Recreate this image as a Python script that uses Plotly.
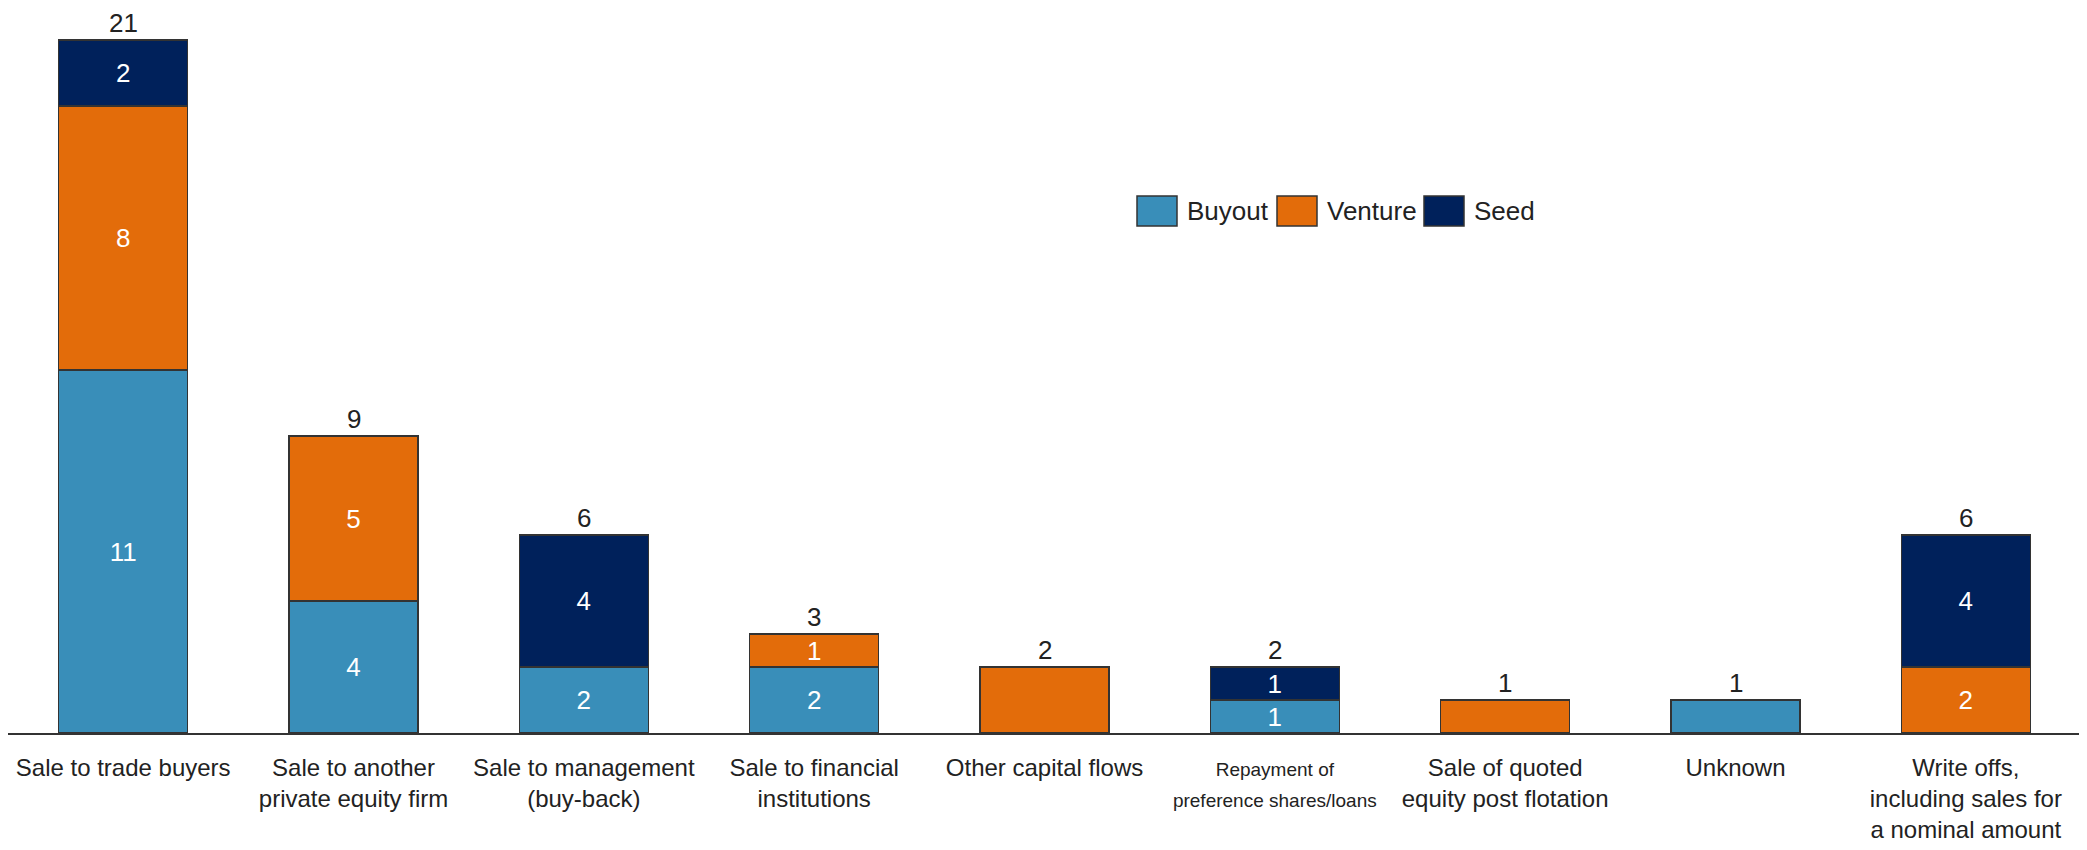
import plotly.graph_objects as go

categories = [
    "Sale to trade buyers",
    "Sale to another<br>private equity firm",
    "Sale to management<br>(buy-back)",
    "Sale to financial<br>institutions",
    "Other capital flows",
    "<span style='font-size:19px'>Repayment of<br>preference shares/loans</span>",
    "Sale of quoted<br>equity post flotation",
    "Unknown",
    "Write offs,<br>including sales for<br>a nominal amount",
]
buyout = [11, 4, 2, 2, 0, 1, 0, 1, 0]
venture = [8, 5, 0, 1, 2, 0, 1, 0, 2]
seed = [2, 0, 4, 0, 0, 1, 0, 0, 4]

series = [("Buyout", buyout, "#398EB9"), ("Venture", venture, "#E36C0A"), ("Seed", seed, "#00215B")]
totals = [b + v + s for b, v, s in zip(buyout, venture, seed)]
nseg = [sum(1 for x in t if x > 0) for t in zip(buyout, venture, seed)]

FONT = "Liberation Sans Narrow, Arial Narrow, Liberation Sans, Arial, sans-serif"
FS = 26
TFS = 24
xs = list(range(len(categories)))

# page body has an 8px default margin; figure sized to fill the rest of the window
OFF = 8
W, H = 2087 - OFF, 850 - OFF
L, R, T, B = 0, 6, 2, 117
pw, ph = W - L - R, H - T - B

fig = go.Figure()
for name, vals, col in series:
    txt = [str(v) if (v > 0 and n > 1) else "" for v, n in zip(vals, nseg)]
    fig.add_trace(go.Bar(
        x=xs, y=vals, name=name, text=txt, texttemplate="%{text}",
        textposition="inside", insidetextanchor="middle", constraintext="none",
        textangle=0,
        textfont=dict(color="white", size=FS, family=FONT),
        marker=dict(color=col, line=dict(color="#333333", width=1.5)),
        showlegend=False, hoverinfo="skip",
    ))

for x, t in zip(xs, totals):
    fig.add_annotation(x=x, y=t, text=str(t), showarrow=False, yanchor="bottom",
                       yshift=0, font=dict(size=FS, color="#222222", family=FONT))

# manual legend (positions in page pixels)
def px2x(p): return (p - OFF - L) / pw
def py2y(p): return (H - B - (p - OFF)) / ph
legend_items = [("Buyout", "#398EB9", 1137, 1185), ("Venture", "#E36C0A", 1277, 1325), ("Seed", "#00215B", 1424, 1472)]
for name, col, sx, tx in legend_items:
    fig.add_shape(type="rect", xref="paper", yref="paper",
                  x0=px2x(sx), x1=px2x(sx + 40), y0=py2y(226), y1=py2y(196),
                  fillcolor=col, line=dict(color="#333333", width=1.5))
    fig.add_annotation(xref="paper", yref="paper", x=px2x(tx), y=py2y(211),
                       text=name, showarrow=False, xanchor="left", yanchor="middle",
                       font=dict(size=FS, color="#222222", family=FONT))

fig.update_layout(
    width=W, height=H, barmode="stack", bargap=0.44,
    plot_bgcolor="white", paper_bgcolor="white",
    margin=dict(l=L, r=R, t=T, b=B, pad=0, autoexpand=False),
    font=dict(family=FONT, size=FS, color="#222222"),
    xaxis=dict(tickmode="array", tickvals=xs, ticktext=categories, showgrid=False,
               showline=True, linecolor="#333333", linewidth=1.5, ticks="",
               tickangle=0, automargin=False, ticklabeloverflow="allow",
               ticklabelstandoff=12, tickfont=dict(size=TFS, color="#222222", family=FONT),
               range=[-0.5, len(categories) - 0.5], zeroline=False),
    yaxis=dict(range=[0, ph / 33.0], visible=False, showgrid=False, zeroline=False),
)
fig.write_html("out.html")
